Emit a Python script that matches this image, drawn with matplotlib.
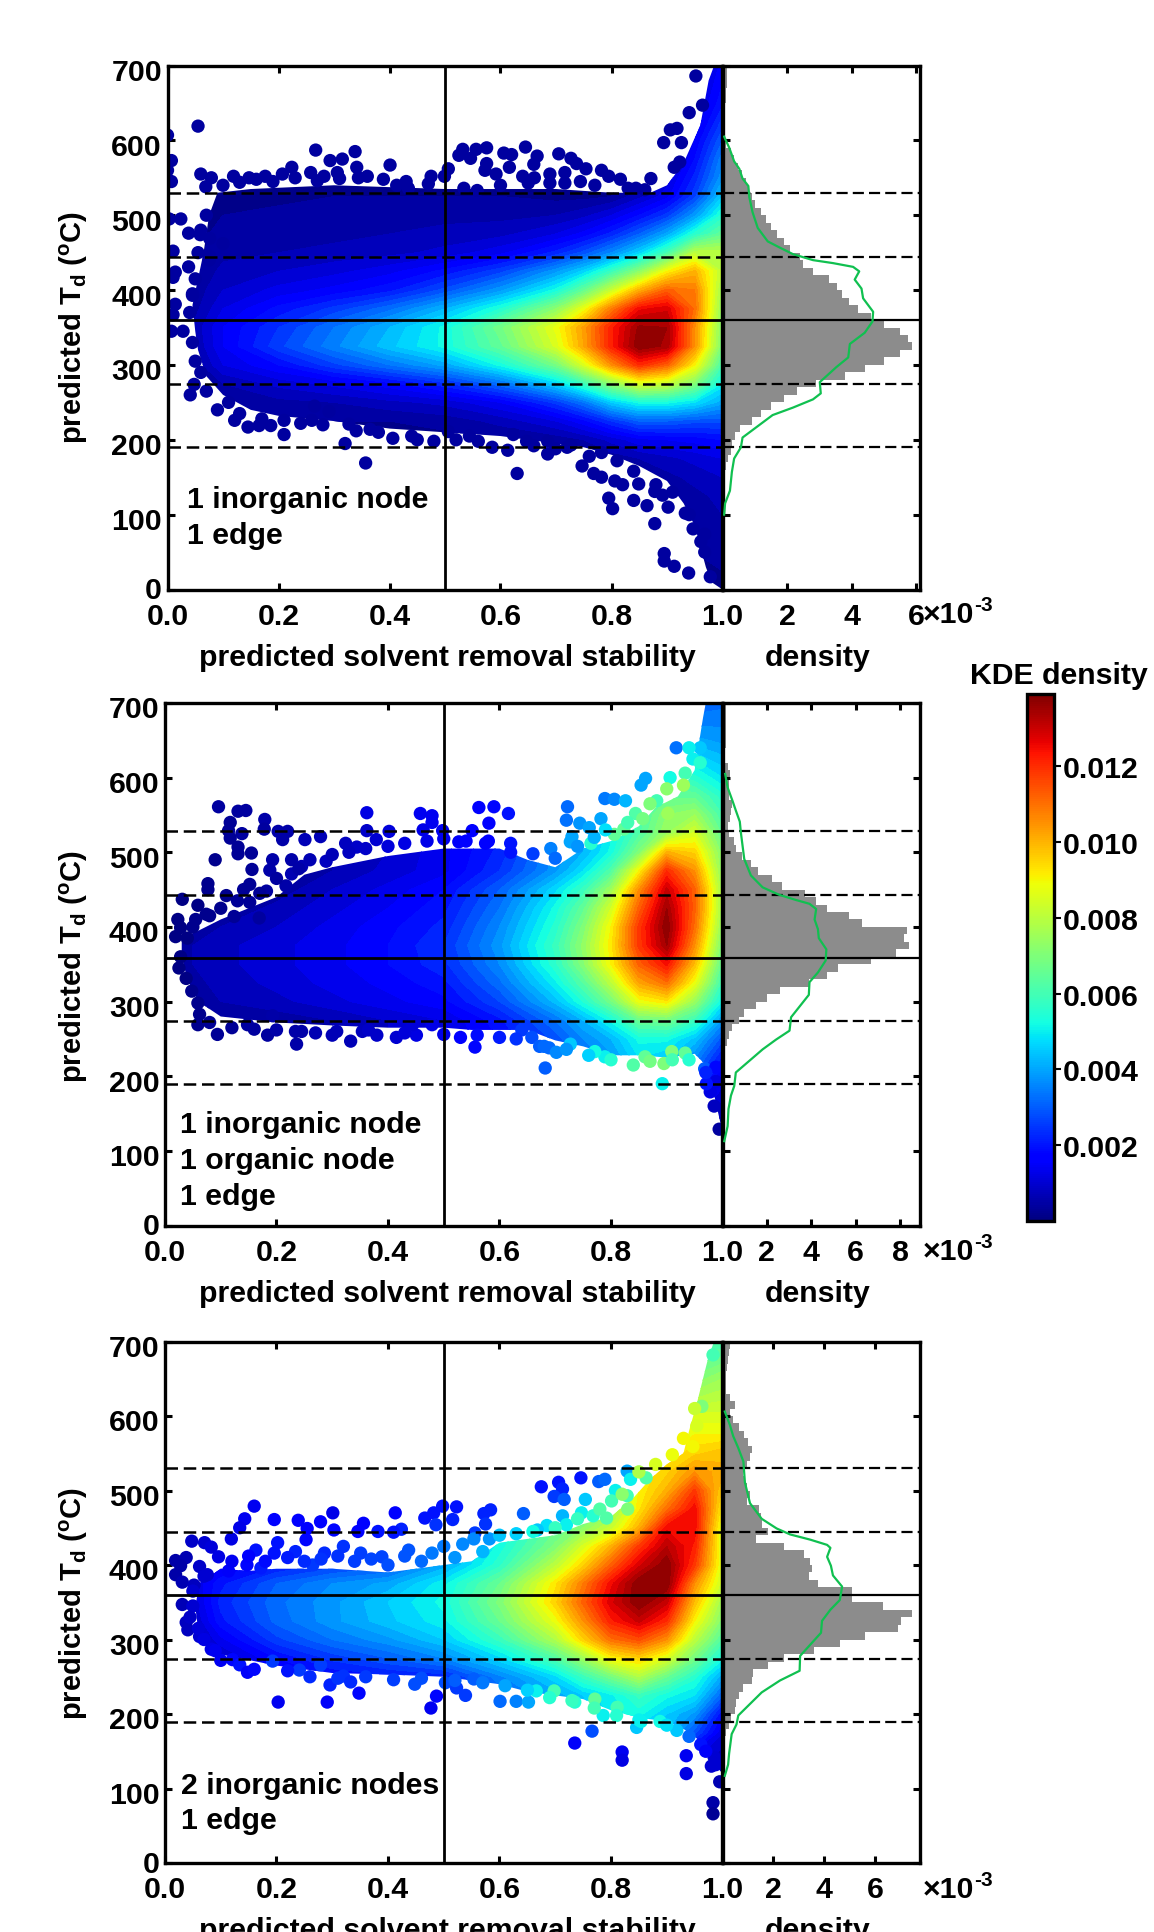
#!/usr/bin/env python3
"""Predicted T_d vs. solvent removal stability for three MOF topologies, with marginal densities."""

import matplotlib

matplotlib.use("Agg")
import matplotlib.pyplot as plt
import numpy as np
from matplotlib.cm import ScalarMappable
from matplotlib.colors import Normalize
from matplotlib.patches import Polygon
from matplotlib.transforms import ScaledTranslation

plt.rcParams["font.family"] = ["Liberation Sans", "DejaVu Sans"]
plt.rcParams["font.weight"] = "bold"
plt.rcParams["mathtext.fontset"] = "custom"
plt.rcParams["mathtext.bf"] = "Liberation Sans:bold"
plt.rcParams["mathtext.rm"] = "Liberation Sans:bold"
plt.rcParams["mathtext.default"] = "bf"

FIG_W, FIG_H = 1154, 1933
FONT = 21.8

# density grid nodes, values below are KDE density in 1e-4 units
GRID_X = [0, .05, .1, .2, .3, .4, .5, .6, .7, .75, .8, .85, .9, .95, 1.0]
GRID_Y = [700, 650, 600, 575, 550, 525, 500, 475, 450, 425, 400, 375, 350, 325, 300,
          275, 250, 225, 200, 175, 150, 125, 100, 50, 0]

GRID_1 = [
    [2, 2, 2, 2, 2, 2, 2, 2, 2, 2, 2, 2, 2, 8, 16],
    [2, 2, 2, 2, 2, 2, 2, 2, 2, 2, 2, 2, 2, 10, 20],
    [2, 2, 2, 2, 2, 2, 2, 2, 2, 2, 2, 2, 3, 15, 30],
    [2, 2, 2, 2, 2, 2, 2, 2, 2, 2, 2, 2, 6, 18, 35],
    [2, 2, 2, 2, 2, 2, 2, 2, 2, 2, 2, 5, 10, 22, 38],
    [2, 2, 2, 2, 3, 3, 3, 3, 2, 2, 3, 8, 14, 26, 45],
    [2, 2, 3, 4, 4, 4, 5, 5, 6, 8, 12, 18, 25, 38, 55],
    [2, 2, 4, 5, 5, 6, 7, 8, 12, 16, 22, 30, 40, 55, 65],
    [2, 2, 5, 6, 7, 8, 10, 14, 22, 28, 36, 46, 60, 80, 80],
    [2, 3, 7, 9, 11, 14, 19, 26, 38, 46, 58, 72, 90, 100, 80],
    [2, 4, 9, 13, 16, 20, 28, 38, 52, 65, 82, 100, 112, 108, 75],
    [2, 5, 12, 19, 25, 32, 42, 54, 72, 88, 108, 125, 128, 110, 72],
    [2, 7, 15, 24, 33, 42, 52, 68, 88, 103, 122, 136, 135, 105, 70],
    [2, 6, 15, 26, 35, 44, 52, 65, 85, 102, 122, 138, 134, 105, 68],
    [2, 4, 12, 18, 26, 33, 40, 52, 68, 85, 105, 120, 112, 90, 60],
    [2, 2, 6, 10, 13, 17, 23, 32, 46, 58, 72, 85, 82, 70, 50],
    [2, 2, 3, 5, 6, 8, 10, 15, 25, 33, 45, 52, 52, 48, 40],
    [2, 2, 2, 3, 3, 3, 4, 7, 12, 17, 24, 30, 30, 28, 28],
    [2, 2, 2, 2, 2, 2, 2, 3, 4, 6, 10, 14, 15, 16, 18],
    [2, 2, 2, 2, 2, 2, 2, 2, 2, 3, 4, 6, 8, 10, 12],
    [2, 2, 2, 2, 2, 2, 2, 2, 2, 2, 2, 3, 5, 7, 9],
    [2, 2, 2, 2, 2, 2, 2, 2, 2, 2, 2, 2, 3, 5, 7],
    [2, 2, 2, 2, 2, 2, 2, 2, 2, 2, 2, 2, 2, 4, 6],
    [2, 2, 2, 2, 2, 2, 2, 2, 2, 2, 2, 2, 2, 3, 4],
    [2, 2, 2, 2, 2, 2, 2, 2, 2, 2, 2, 2, 2, 2, 2],
]

GRID_2 = [
    [2, 2, 2, 4, 6, 9, 14, 20, 30, 30, 30, 30, 30, 30, 32],
    [2, 2, 2, 4, 6, 9, 14, 20, 30, 30, 30, 30, 35, 40, 38],
    [2, 2, 2, 4, 6, 9, 14, 20, 35, 40, 45, 50, 60, 55, 48],
    [2, 2, 2, 4, 6, 9, 14, 20, 35, 40, 50, 55, 65, 65, 55],
    [2, 2, 2, 4, 6, 9, 14, 20, 35, 40, 50, 60, 72, 75, 60],
    [2, 2, 2, 4, 6, 9, 14, 20, 35, 40, 50, 62, 75, 85, 65],
    [2, 2, 2, 4, 6, 9, 14, 22, 36, 42, 52, 70, 100, 95, 70],
    [2, 2, 2, 3, 6, 10, 14, 24, 38, 48, 62, 90, 120, 105, 72],
    [2, 2, 2, 4, 9, 13, 18, 30, 47, 58, 75, 105, 130, 112, 75],
    [2, 2, 3, 7, 11, 15, 20, 33, 52, 65, 84, 112, 135, 112, 75],
    [2, 3, 6, 9, 13, 17, 22, 36, 55, 70, 90, 118, 138, 110, 72],
    [2, 6, 8, 11, 14, 18, 24, 38, 58, 73, 92, 118, 135, 105, 68],
    [2, 6, 8, 11, 14, 18, 23, 36, 56, 71, 90, 112, 124, 98, 64],
    [2, 5, 7, 10, 13, 16, 20, 32, 50, 63, 80, 102, 110, 88, 58],
    [2, 2, 6, 8, 11, 14, 17, 27, 43, 54, 68, 88, 92, 74, 50],
    [2, 2, 3, 4, 6, 9, 12, 20, 33, 42, 52, 66, 68, 58, 38],
    [2, 2, 3, 4, 6, 9, 12, 18, 28, 36, 42, 52, 52, 44, 28],
    [2, 2, 3, 4, 6, 9, 12, 18, 26, 32, 38, 48, 45, 36, 20],
    [2, 2, 3, 4, 6, 9, 12, 18, 26, 32, 36, 45, 45, 30, 14],
    [2, 2, 3, 4, 6, 9, 12, 18, 26, 32, 36, 40, 40, 20, 10],
    [2, 2, 3, 4, 6, 9, 12, 18, 26, 32, 36, 40, 40, 12, 6],
    [2, 2, 3, 4, 6, 9, 12, 18, 26, 32, 36, 40, 30, 8, 4],
    [2, 2, 3, 4, 6, 9, 12, 18, 26, 32, 36, 40, 20, 5, 3],
    [2, 2, 3, 4, 6, 9, 12, 18, 26, 32, 36, 40, 10, 3, 2],
    [2, 2, 3, 4, 6, 9, 12, 18, 26, 32, 36, 40, 5, 2, 2],
]

GRID_3 = [
    [5, 5, 12, 18, 22, 25, 35, 50, 60, 60, 60, 60, 60, 60, 60],
    [5, 5, 12, 18, 22, 25, 35, 50, 60, 60, 60, 60, 65, 70, 75],
    [5, 5, 12, 18, 22, 25, 35, 50, 60, 60, 65, 70, 75, 85, 85],
    [5, 5, 12, 18, 22, 25, 35, 50, 60, 60, 65, 75, 85, 90, 90],
    [5, 5, 12, 18, 22, 25, 35, 50, 60, 60, 70, 85, 90, 95, 98],
    [5, 5, 12, 18, 22, 25, 35, 50, 60, 60, 70, 90, 95, 105, 100],
    [5, 5, 12, 18, 22, 25, 35, 50, 60, 60, 70, 90, 100, 118, 95],
    [5, 5, 12, 18, 22, 25, 35, 50, 60, 65, 72, 92, 110, 125, 90],
    [5, 5, 12, 18, 22, 25, 35, 50, 65, 72, 82, 100, 125, 125, 85],
    [5, 8, 12, 18, 24, 28, 38, 52, 70, 85, 100, 118, 132, 122, 85],
    [5, 8, 14, 20, 25, 28, 40, 56, 80, 95, 112, 128, 138, 118, 85],
    [8, 12, 20, 30, 36, 40, 50, 66, 92, 108, 125, 138, 138, 105, 82],
    [8, 10, 22, 32, 38, 45, 52, 70, 95, 112, 128, 138, 130, 98, 75],
    [8, 8, 20, 31, 38, 44, 50, 66, 88, 105, 122, 130, 120, 90, 70],
    [6, 6, 14, 26, 33, 38, 45, 58, 78, 95, 110, 115, 105, 80, 62],
    [5, 5, 8, 18, 25, 30, 36, 47, 62, 75, 90, 95, 85, 68, 52],
    [5, 5, 10, 15, 18, 20, 22, 35, 47, 58, 68, 78, 66, 55, 40],
    [5, 5, 10, 15, 18, 20, 22, 30, 40, 45, 50, 58, 52, 48, 30],
    [5, 5, 10, 15, 18, 20, 22, 30, 38, 42, 50, 52, 45, 38, 18],
    [5, 5, 10, 15, 18, 20, 22, 30, 38, 42, 50, 45, 42, 28, 12],
    [5, 5, 10, 15, 18, 20, 22, 30, 38, 42, 45, 40, 30, 14, 8],
    [5, 5, 10, 15, 18, 20, 22, 30, 38, 42, 45, 40, 20, 10, 6],
    [5, 5, 10, 15, 18, 20, 22, 30, 38, 42, 45, 30, 15, 6, 4],
    [5, 5, 10, 15, 18, 20, 22, 30, 38, 42, 45, 30, 10, 4, 3],
    [5, 5, 10, 15, 18, 20, 22, 30, 38, 42, 45, 30, 10, 4, 3],
]

# outline of the solid part of each cloud
ENV_1_X = [.05, .045, .055, .065, .075, .09, .15, .3, .5, .7, .8, .87, .9, .93, .96, .975, .985, 1.0,
           1.0, .98, .97, .95, .93, .9, .85, .8, .75, .7, .6, .5, .4, .3, .2, .15, .1, .07, .055]
ENV_1_Y = [345, 380, 415, 450, 500, 530, 535, 540, 535, 535, 530, 530, 540, 570, 620, 680, 700, 700,
           0, 10, 30, 85, 115, 145, 165, 180, 190, 195, 205, 210, 215, 225, 232, 240, 260, 285, 320]
ENV_2_X = [.03, .03, .06, .1, .15, .2, .25, .3, .4, .5, .6, .65, .7, .75, .8, .85, .88, .92, .95, .965, .97, 1.0,
           1.0, .985, .97, .95, .9, .85, .8, .75, .7, .65, .6, .55, .5, .4, .3, .2, .1, .06, .04]
ENV_2_Y = [360, 385, 395, 410, 425, 440, 470, 480, 495, 505, 505, 490, 480, 505, 515, 535, 560, 575, 610, 680, 700, 700,
           125, 175, 215, 230, 225, 228, 228, 240, 248, 262, 262, 262, 265, 265, 268, 272, 280, 300, 330]
ENV_3_X = [.055, .06, .08, .1, .15, .2, .3, .4, .45, .5, .55, .6, .65, .7, .75, .8, .84, .87, .9, .93, .94, .955, .975, .985, 1.0,
           1.0, .985, .97, .95, .93, .9, .85, .8, .75, .7, .65, .6, .55, .5, .4, .3, .2, .1, .08, .06]
ENV_3_Y = [340, 375, 385, 395, 392, 395, 395, 390, 395, 400, 405, 430, 435, 440, 455, 465, 490, 515, 535, 550, 580, 620, 680, 700, 700,
           120, 135, 155, 170, 180, 190, 195, 205, 220, 225, 230, 240, 245, 250, 253, 255, 265, 280, 290, 310]

# individual points outside the dense core
DOTS_1_X = [.055, 0, .007, .267, .293, .315, .338, .401, .532, .525, .546, .556, .575, .606, .62,
            .645, .666, .66, .705, .727, .737, .754, .782, .795, .816, .894, .906, .918, .926, .94,
            .952, .964, .923, .913, .871, .844, .224, .207, .176, .147, .119, .079, .06, .069, .1,
            .258, .282, .306, .341, .344, .389, .413, .434, .475, .506, .499, .572, .592, .575, .616,
            .64, .661, .689, .689, .716, .716, .744, .534, .558, 0, .007, .003, .024, .038, .059,
            .076, .1, .01, .055, .076, .038, .014, .01, .045, .014, .01, .007, .028, .041, .048,
            .09, .121, .145, .165, .186, .21, .21, .26, .265, .291, .32, .357, .327, .365, .406,
            .45, .48, .506, .544, .585, .613, .63, .685, .747, .768, .782, .806, .82, .795, .802,
            .84, .849, .864, .878, .892, .902, .878, .933, .895, .895, .913, .939, .947, .968, .968,
            .978, .961, .782, .699, .647, .623, .685, .727,
            .13, .16, .19, .23, .27, .31, .36, .43, .47, .6, .65, .77, .83, .86,
            .11, .13, .17, .24, .28, .34, .38, .44, .52, .56, .66, .72, .76, .81, .84, .88, .91, .94,
            .07, .06, .075, .05, .045, .04, .045, .05, .06, .07]
DOTS_1_Y = [619, 607, 573, 587, 573, 575, 585, 567, 588, 580, 576, 588, 590, 583, 581,
            591, 579, 568, 582, 576, 569, 562, 560, 552, 548, 597, 614, 616, 597, 637,
            686, 647, 571, 564, 549, 536, 564, 555, 552, 550, 552, 550, 555, 538, 540,
            557, 552, 557, 564, 550, 548, 540, 536, 552, 562, 552, 560, 555, 569, 564,
            552, 550, 555, 543, 557, 543, 545, 536, 533, 560, 545, 495, 495, 476, 474,
            469, 462, 452, 450, 445, 431, 424, 417, 393, 381, 367, 345, 345, 260, 274,
            240, 226, 217, 219, 219, 226, 207, 226, 245, 238, 195, 169, 221, 214, 202,
            200, 198, 211, 205, 190, 186, 155, 181, 165, 155, 150, 145, 140, 122, 108,
            119, 141, 112, 131, 126, 110, 88, 102, 48, 38, 31, 22, 81, 74, 50,
            17, 64, 183, 188, 198, 207, 198, 193,
            544, 548, 545, 550, 546, 549, 552, 545, 542, 540, 543, 540, 536, 534,
            250, 235, 228, 222, 220, 212, 210, 205, 200, 198, 192, 190, 178, 172, 158, 140, 130, 100,
            500, 480, 440, 415, 395, 370, 330, 305, 290, 265]
DOTS_1_D = [4] * len(DOTS_1_X)

DOTS_2_X = [.096, .131, .145, .179, .362, .458, .479, .479, .563, .59, .616, .581, .722, .72, .789,
            .806, .826, .854, .862, .882, .906, .933, .917, .947, .96, .902, .844, .857, .782, .744,
            .761, .73, .823, .806, .764, .692, .727, .117, .114, .117, .138, .178, .203, .22, .211,
            .131, .131, .155, .09, .156, .193, .188, .279, .251, .227, .227, .289, .245, .362, .402,
            .379, .324, .344, .463, .498, .551, .527, .575, .62, .077, .077, .152, .141, .11, .031,
            .059, .055, .074, .023, .028, .019, .152, .182, .217, .124, .169, .028, .038, .048, .059,
            .062, .059, .094, .148, .16, .184, .193, .236, .234, .245, .308, .333, .354, .365, .415,
            .451, .444, .479, .556, .56, .64, .658, .672, .689, .702, .682, .727, .789, .771, .861,
            .892, .895, .933, .909, .968, .988, .988, .978, .985, .994, .971,
            .24, .26, .3, .33, .36, .4, .43, .47, .5, .54, .58, .62, .66, .7, .74, .77, .79, .83, .87, .9, .93, .96, .94,
            .05, .08, .1, .13, .17, .2, .04, .025,
            .08, .12, .2, .27, .3, .38, .43, .5, .53, .6, .63, .68, .72, .76, .8, .84, .87, .91, .94, .97]
DOTS_2_Y = [561, 555, 556, 544, 553, 552, 549, 540, 560, 561, 552, 539, 561, 543, 572,
            571, 569, 590, 599, 569, 600, 606, 640, 625, 640, 552, 552, 545, 545, 539,
            533, 521, 531, 524, 512, 505, 514, 540, 529, 519, 525, 531, 528, 528, 517,
            507, 498, 499, 490, 477, 490, 476, 521, 517, 490, 471, 488, 481, 529, 528,
            517, 512, 507, 530, 529, 529, 514, 512, 512, 458, 450, 457, 450, 442, 437,
            429, 410, 417, 410, 399, 387, 433, 448, 455, 414, 412, 360, 331, 314, 298,
            283, 269, 256, 269, 263, 255, 281, 243, 260, 260, 260, 247, 260, 262, 252,
            255, 269, 269, 239, 255, 262, 252, 240, 238, 232, 211, 243, 226, 233, 226,
            190, 217, 231, 233, 210, 212, 193, 179, 160, 129, 190,
            478, 490, 497, 500, 505, 508, 512, 515, 518, 515, 515, 500, 498, 492, 508, 520, 530, 540, 565, 585, 590, 620, 640,
            400, 415, 425, 435, 445, 465, 385, 345,
            272, 265, 262, 258, 255, 255, 258, 256, 252, 252, 250, 240, 236, 228, 222, 215, 220, 222, 222, 205]
DOTS_2_D = [4, 4, 4, 5, 12, 14, 14, 14, 17, 18, 20, 17, 32, 33, 34,
            36, 42, 40, 40, 60, 52, 60, 33, 50, 45, 75, 62, 68, 40, 38,
            40, 40, 65, 65, 55, 35, 40, 3, 3, 3, 4, 4, 5, 5, 5,
            3, 3, 3, 2, 3, 5, 5, 7, 7, 5, 6, 8, 7, 9, 11,
            10, 8, 9, 13, 14, 17, 15, 16, 20, 2, 2, 3, 3, 2, 1,
            1, 2, 2, 1, 1, 1, 3, 4, 5, 3, 4, 1, 1, 2, 2,
            2, 2, 3, 4, 4, 4, 5, 5, 5, 5, 7, 7, 8, 9, 10,
            12, 11, 13, 18, 19, 25, 28, 30, 32, 36, 30, 45, 50, 52, 65,
            50, 70, 65, 70, 30, 18, 12, 12, 8, 4, 20,
            5, 6, 7, 8, 9, 11, 12, 13, 14, 16, 17, 20, 26, 32, 38, 42, 48, 60, 70, 72, 75, 55, 50,
            2, 2, 2, 3, 3, 4, 1, 1,
            3, 3, 5, 6, 7, 9, 11, 13, 16, 21, 24, 32, 38, 46, 55, 62, 68, 60, 55, 22]

DOTS_3_X = [.16, .143, .134, .119, .196, .239, .255, .253, .279, .301, .303, .346, .356, .382, .413,
            .424, .41, .466, .482, .498, .523, .516, .486, .572, .584, .575, .643, .556, .675, .706,
            .713, .698, .716, .746, .778, .789, .829, .835, .863, .808, .829, .801, .83, .754, .747,
            .768, .792, .713, .72, .685, .668, .019, .038, .028, .019, .031, .052, .062, .076, .048,
            .071, .083, .096, .114, .031, .038, .041, .062, .083, .147, .163, .172, .202, .196, .234,
            .265, .286, .32, .351, .389, .437, .479, .534, .554, .582, .121, .134, .148, .193, .241,
            .279, .296, .32, .333, .348, .203, .291, .448, .487, .477, .503, .523, .539, .554, .601,
            .63, .652, .666, .698, .735, .771, .786, .811, .846, .854, .888, .918, .766, .735, .82,
            .82, .935, .935, .985, .988, .995, .983, .983, .961, .963, .954, .947, .983,
            .12, .15, .18, .22, .25, .28, .31, .34, .37, .4, .43, .46, .5, .52, .57, .6, .63, .66, .7, .74, .78, .82, .85, .88, .91, .93, .95,
            .1, .16, .22, .26, .31, .36, .41, .46, .52, .57, .61, .65, .69, .73, .77, .81, .85, .9, .94, .97, .98,
            .05, .05, .045, .06, .07, .09, .07]
DOTS_3_Y = [479, 462, 450, 435, 461, 460, 449, 434, 458, 470, 447, 445, 456, 445, 470,
            448, 444, 463, 470, 479, 478, 461, 454, 469, 474, 455, 469, 443, 505, 511,
            502, 492, 488, 517, 512, 515, 526, 515, 517, 500, 493, 486, 475, 488, 470,
            466, 463, 466, 454, 453, 447, 406, 410, 399, 387, 377, 373, 398, 387, 432,
            430, 424, 411, 392, 347, 323, 313, 304, 287, 400, 420, 396, 430, 416, 418,
            400, 416, 425, 416, 411, 420, 416, 428, 435, 435, 273, 266, 256, 271, 259,
            266, 239, 251, 243, 228, 216, 216, 240, 224, 208, 242, 235, 225, 247, 217,
            217, 216, 231, 231, 216, 220, 198, 209, 182, 190, 190, 178, 177, 161, 149,
            138, 144, 120, 142, 132, 109, 81, 66, 159, 613, 587, 559, 682,
            405, 412, 405, 410, 405, 408, 412, 405, 408, 400, 412, 405, 425, 410, 418, 440, 442, 445, 450, 462, 475, 495, 525, 535, 548, 570, 610,
            272, 260, 258, 250, 248, 250, 246, 248, 245, 242, 238, 232, 222, 218, 208, 198, 192, 185, 170, 150, 130,
            365, 345, 330, 315, 300, 285, 385]
DOTS_3_D = [14, 14, 13, 12, 16, 17, 17, 18, 17, 13, 18, 17, 16, 20, 16,
            22, 20, 20, 20, 20, 20, 22, 24, 22, 22, 24, 30, 25, 20, 20,
            22, 25, 30, 20, 30, 32, 40, 50, 62, 50, 60, 60, 70, 45, 50,
            55, 62, 42, 50, 48, 45, 5, 6, 5, 5, 6, 8, 9, 10, 9,
            10, 11, 12, 15, 7, 8, 8, 10, 13, 18, 20, 21, 20, 20, 22,
            25, 23, 24, 26, 27, 29, 34, 36, 36, 38, 18, 20, 15, 25, 25,
            26, 22, 24, 23, 18, 14, 15, 28, 18, 14, 28, 25, 25, 30, 32,
            35, 40, 50, 60, 55, 65, 50, 60, 45, 50, 52, 45, 28, 15, 14,
            12, 14, 12, 10, 10, 6, 5, 3, 20, 70, 85, 90, 60,
            14, 16, 19, 21, 23, 24, 24, 26, 27, 28, 29, 32, 34, 38, 42, 44, 46, 52, 58, 58, 62, 72, 78, 85, 88, 90, 82,
            14, 18, 20, 23, 24, 25, 26, 28, 30, 34, 40, 46, 55, 58, 60, 55, 50, 48, 32, 15, 10,
            10, 10, 9, 11, 12, 14, 10]

# marginal histograms, 10 degree bins going down from 700, density in 1e-3 units
HIST_1 = [.15, .15, .13, .1, .1, .08, .07, .06, .06, .05, .12, .25, .35, .47, .6, .72, .83, .92, 1.0, 1.2,
          1.35, 1.5, 1.7, 1.9, 2.1, 2.4, 2.5, 2.8, 3.3, 3.55, 3.7, 3.9, 4.2, 4.6, 5.0, 5.5, 5.75, 5.87,
          5.5, 5.0, 4.4, 3.8, 2.9, 2.3, 1.9, 1.5, 1.2, .9, .55, .38, .3, .25, .17, .12, .08, .05, .03,
          .02, .01, .01]
HIST_2 = [.18, .17, .16, .16, .15, .14, .12, .1, .25, .33, .3, .28, .3, .42, .4, .32, .24, .3, .53, .62,
          .9, 1.3, 1.6, 2.25, 2.7, 3.7, 4.2, 4.7, 5.7, 6.3, 8.3, 8.2, 8.4, 7.8, 6.7, 5.2, 4.7, 3.9, 2.6,
          2.0, 1.5, .95, .75, .45, .3, .2, .12, .08, .05]
HIST_3 = [.29, .27, .22, .17, .13, .13, .12, .3, .5, .3, .42, .65, .85, 1.0, 1.14, 1.08, .95, .82, .85,
          .95, 1.1, .98, 1.45, 1.5, 1.55, 1.8, 1.3, 2.4, 3.2, 3.45, 3.5, 3.4, 3.75, 5.1, 5.1, 6.3, 7.46,
          7.0, 6.9, 5.6, 4.6, 3.6, 2.4, 1.8, 1.2, 1.15, .8, .65, .55, .48, .33, .25, .15, .1, .08, .05]

# green KDE curves
KDE_1_X = [.05, .21, .36, .52, .62, .8, .83, .93, 1.09, 1.4, 1.76, 2.18, 2.8, 3.42, 4.04, 4.23, 4.09, 4.3,
           4.35, 4.66, 4.64, 4.4, 3.94, 3.89, 3.52, 3.01, 3.04, 2.8, 2.18, 1.55, .62, .57, .36, .29, .23,
           .08, .05]
KDE_1_Y = [605, 590, 572, 562, 549, 539, 524, 504, 483, 465, 457, 448, 440, 436, 431, 425, 414, 402,
           389, 371, 358, 343, 328, 310, 297, 277, 262, 254, 243, 233, 203, 190, 175, 157, 132,
           115, 100]
KDE_2_X = [.12, .23, .45, .6, .78, .83, .98, 1.28, 1.81, 2.56, 3.32, 3.92, 4.22, 4.15, 4.3, 4.34, 4.68,
           4.65, 4.3, 3.92, 3.89, 3.09, 3.02, 2.41, 1.81, .6, .53, .38, .27, .23, .08]
KDE_2_Y = [605, 587, 569, 556, 541, 526, 491, 469, 453, 443, 436, 431, 424, 410, 397, 385, 370,
           355, 339, 326, 309, 279, 261, 249, 236, 205, 187, 174, 156, 133, 113]
KDE_3_X = [.09, .29, .42, .62, .82, .88, 1.08, 1.54, 2.13, 2.66, 3.45, 4.11, 4.24, 4.11, 4.26, 4.34, 4.7,
           4.61, 4.24, 3.91, 3.87, 3.05, 3.03, 2.26, 1.54, .62, .55, .36, .26, .22, .09]
KDE_3_Y = [606, 588, 573, 557, 539, 511, 483, 462, 449, 441, 434, 427, 423, 411, 399, 386, 371,
           353, 340, 325, 309, 278, 258, 245, 229, 198, 186, 173, 147, 132, 117]

DASHED_1 = [530, 444, 274, 190]
DASHED_2 = [529, 443, 274, 189]
DASHED_3 = [530, 444, 274, 189]
SOLID_T = [360, 359, 360]

LABELS_1 = ["1 inorganic node", "1 edge"]
LABELS_2 = ["1 inorganic node", "1 organic node", "1 edge"]
LABELS_3 = ["2 inorganic nodes", "1 edge"]

Y_TICKS = [0, 100, 200, 300, 400, 500, 600, 700]
MAIN_TICKS = [0.0, 0.2, 0.4, 0.6, 0.8, 1.0]
CBAR_TICKS = [0.002, 0.004, 0.006, 0.008, 0.010, 0.012]

norm = Normalize(vmin=0.0, vmax=0.0139)
cmap = plt.get_cmap("jet")
levels = np.arange(0, 142, 3) * 1e-4


def px_axes(fig, left, top, right, bottom):
    return fig.add_axes([left / FIG_W, 1 - bottom / FIG_H, (right - left) / FIG_W, (bottom - top) / FIG_H])


def style(ax):
    for s in ax.spines.values():
        s.set_linewidth(2.4)
    ax.tick_params(direction="in", length=5, width=2.2, top=True, labelsize=FONT)
    ax.tick_params(axis="x", pad=9)
    ax.tick_params(axis="y", pad=4)


def draw_panel(fig, box, grid, env, dots, hist, kde, dashed, solid, hist_max, hist_ticks, labels, label_pos):
    left, top, mid, right, bottom = box
    ax = px_axes(fig, left, top, mid, bottom)
    cs = ax.contourf(GRID_X, GRID_Y, np.array(grid) * 1e-4, levels=levels, cmap=cmap, norm=norm, zorder=1)
    cs.set_clip_path(Polygon(np.column_stack(env), closed=True, transform=ax.transData))
    ax.scatter(dots[0], dots[1], c=np.array(dots[2]) * 1e-4, cmap=cmap, norm=norm, s=92, linewidths=0, zorder=2)
    ax.axvline(0.5, color="k", lw=2.0, zorder=3)
    ax.axhline(solid, color="k", lw=2.0, zorder=3)
    for d in dashed:
        ax.axhline(d, color="k", lw=1.8, ls=(0, (5, 2.3)), zorder=3)
    ax.set_xlim(0, 1)
    ax.set_ylim(0, 700)
    ax.set_xticks(MAIN_TICKS)
    ax.set_xticklabels([f"{t:.1f}" for t in MAIN_TICKS])
    ax.set_yticks(Y_TICKS)
    style(ax)
    for t, lab in zip(Y_TICKS, ax.get_yticklabels()):
        shift = 1.5 if t == 0 else -2.5
        lab.set_transform(lab.get_transform() + ScaledTranslation(0, shift / 72, fig.dpi_scale_trans))
    for i, line in enumerate(labels):
        ax.text(label_pos[0], label_pos[1][i], line, fontsize=FONT, va="center", zorder=4)

    hx = px_axes(fig, mid, top, right, bottom)
    centers = [700 - 5 - 10 * i for i in range(len(hist))]
    hx.barh(centers, hist, height=10, color="#8c8c8c", linewidth=0, zorder=1)
    hx.plot(kde[0], kde[1], color="#10c050", lw=1.6, zorder=3)
    hx.axhline(solid, color="k", lw=1.6, zorder=2)
    for d in dashed:
        hx.axhline(d, color="k", lw=1.6, ls=(0, (5, 2.3)), zorder=2)
    hx.set_xlim(0, hist_max)
    hx.set_ylim(0, 700)
    hx.set_xticks(hist_ticks)
    hx.set_xticklabels([str(t) for t in hist_ticks])
    hx.set_yticks(Y_TICKS)
    hx.set_yticklabels([])
    style(hx)
    hx.tick_params(right=True)
    return ax, hx


def fig_text(fig, x, y, s, size=FONT, **kw):
    fig.text(x / FIG_W, 1 - y / FIG_H, s, fontsize=size, ha="center", va="center", **kw)


def main():
    fig = plt.figure(figsize=(FIG_W / 100, FIG_H / 100), dpi=100)

    draw_panel(fig, (167.5, 66.5, 722.5, 920, 590.5), GRID_1, (ENV_1_X, ENV_1_Y), (DOTS_1_X, DOTS_1_Y, DOTS_1_D), HIST_1,
               (KDE_1_X, KDE_1_Y), DASHED_1, SOLID_T[0], 6.11, [2, 4, 6], LABELS_1, (0.036, [121, 73]))
    draw_panel(fig, (165, 704, 722.5, 920, 1226.5), GRID_2, (ENV_2_X, ENV_2_Y), (DOTS_2_X, DOTS_2_Y, DOTS_2_D), HIST_2,
               (KDE_2_X, KDE_2_Y), DASHED_2, SOLID_T[1], 8.9, [2, 4, 6, 8], LABELS_2, (0.027, [136, 88, 40]))
    draw_panel(fig, (165, 1342.5, 722.5, 920, 1864), GRID_3, (ENV_3_X, ENV_3_Y), (DOTS_3_X, DOTS_3_Y, DOTS_3_D), HIST_3,
               (KDE_3_X, KDE_3_Y), DASHED_3, SOLID_T[2], 7.76, [2, 4, 6], LABELS_3, (0.029, [105, 58]))

    for y_mid, y_label, y_scale in [(327, 658, 615), (966, 1294, 1252), (1603, 1931, 1890)]:
        fig_text(fig, 74, y_mid, r"predicted T$_{\mathbf{d}}$ ($^{\mathbf{o}}$C)", size=21, rotation=90)
        fig_text(fig, 447, y_label, "predicted solvent removal stability")
        fig_text(fig, 818, y_label, "density")
        fig_text(fig, 948, y_scale, "×10")
        fig_text(fig, 983, y_scale - 9, "-3", size=15)

    cax = px_axes(fig, 1027, 695, 1054, 1222)
    cb = fig.colorbar(ScalarMappable(norm=norm, cmap=cmap), cax=cax, ticks=CBAR_TICKS)
    cb.ax.set_yticklabels([f"{t:.3f}" for t in CBAR_TICKS])
    cb.ax.tick_params(labelsize=FONT, length=5, width=1.5, pad=1)
    cb.outline.set_linewidth(2.4)
    fig_text(fig, 1059, 676, "KDE density")

    fig.savefig("out.png", dpi=100)


if __name__ == "__main__":
    main()
